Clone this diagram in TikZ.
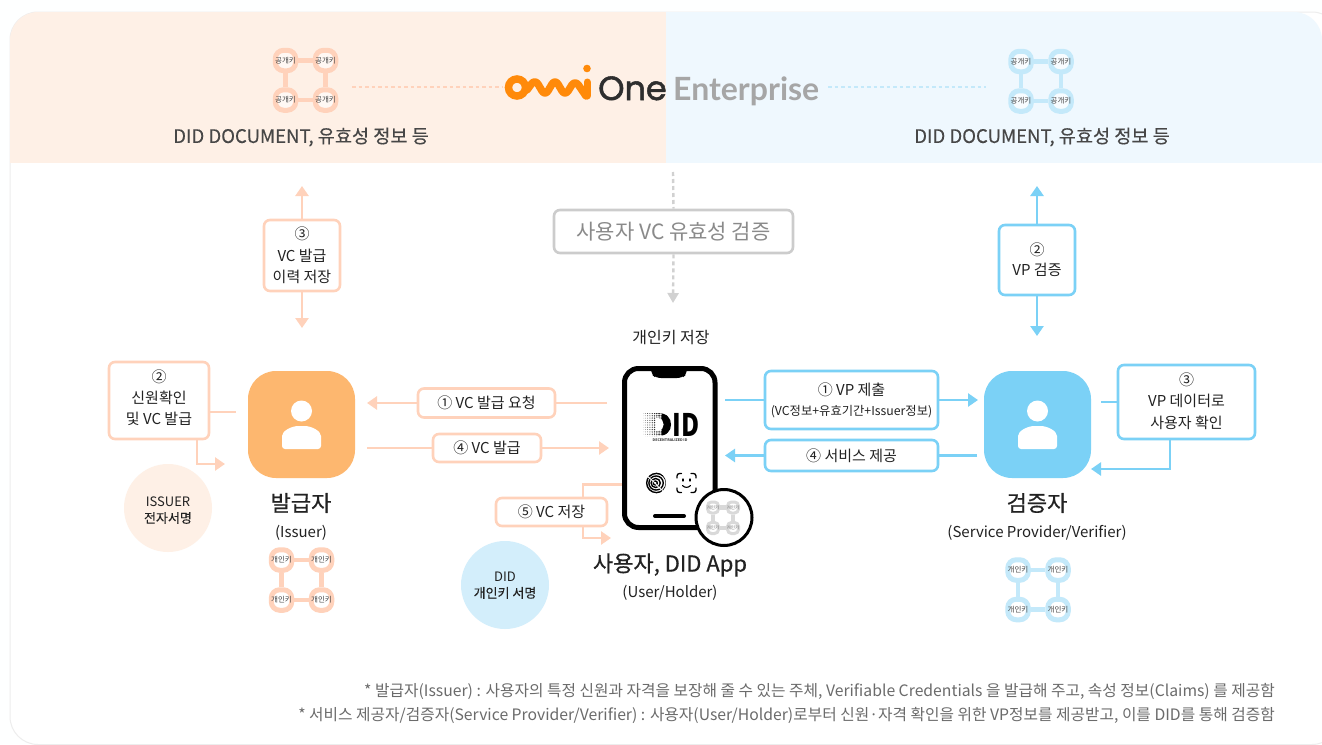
\documentclass[tikz,border=0pt]{standalone}
\usepackage{fontspec}
\usetikzlibrary{arrows.meta,positioning,calc}
\setmainfont{Noto Sans CJK KR}
\newfontfamily\logofont{Poppins}
\newfontfamily\entfont{Lato}
\definecolor{peach}{HTML}{FFD2BB}
\definecolor{sky}{HTML}{7BD1F6}
\definecolor{paleblue}{HTML}{C4E9FA}
\definecolor{panelL}{HTML}{FEF0E6}
\definecolor{panelR}{HTML}{EFF8FE}
\definecolor{ink}{HTML}{222222}
\definecolor{graytx}{HTML}{8A8A8A}
\definecolor{omni}{HTML}{FF8A0A}
\definecolor{issuerfill}{HTML}{FDB76F}
\tikzset{
  x=1pt,y=-1pt,
  pxfont/.style={font=\fontsize{#1}{#1}\selectfont},
  peachbox/.style={draw=peach,fill=white,line width=2.6pt,rounded corners=6pt,inner sep=0pt,align=center,text=ink},
  skybox/.style={draw=sky,fill=white,line width=2.6pt,rounded corners=6pt,inner sep=0pt,align=center,text=ink},
  peachline/.style={draw=peach,line width=2.6pt},
  skyline/.style={draw=sky,line width=2.6pt},
  peacharrow/.style={peachline,-{Triangle[length=10pt,width=13pt,fill=peach]}},
  skyarrow/.style={skyline,-{Triangle[length=10pt,width=13pt,fill=sky]}},
  grayarrow/.style={draw=black!18,line width=2.4pt,dash pattern=on 4pt off 3pt,-{Triangle[length=10pt,width=11pt,fill=black!18]}},
  keyring/.style={rectangle,rounded corners=8.5pt,minimum size=20.5pt,inner sep=0pt,line width=5pt,text=black!72,pxfont=7.5},
  plainlabel/.style={inner sep=0pt,align=center,text=ink},
  disc/.style={circle,minimum size=88pt,inner sep=0pt,align=center,text=ink,pxfont=13},
}
% prefix, x left, y top, dx, dy, colour, ring fill, label
\newcommand{\keygrid}[8]{%
  \node[keyring,draw=#6,fill=#7] (#1a) at (#2,#3) {\makebox[0pt]{#8}};
  \node[keyring,draw=#6,fill=#7] (#1b) at (#2+#4,#3) {\makebox[0pt]{#8}};
  \node[keyring,draw=#6,fill=#7] (#1c) at (#2,#3+#5) {\makebox[0pt]{#8}};
  \node[keyring,draw=#6,fill=#7] (#1d) at (#2+#4,#3+#5) {\makebox[0pt]{#8}};
  \draw[#6,line width=4.5pt] (#1a) -- (#1b);
  \draw[#6,line width=4.5pt] (#1c) -- (#1d);
  \draw[#6,line width=4.5pt] (#1a) -- (#1c);
  \draw[#6,line width=4.5pt] (#1b) -- (#1d);
}
\newcommand{\person}[2]{%
  \begin{scope}[shift={(#1,#2)}]
    \fill[white] (0,-27) circle (10.5);
    \fill[white,rounded corners=3pt] (-19.5,11) -- (-19.5,1) .. controls (-19.5,-7) and (-10,-12) .. (0,-12) .. controls (10,-12) and (19.5,-7) .. (19.5,1) -- (19.5,11) -- cycle;
  \end{scope}
}
\begin{document}
\begin{tikzpicture}
\useasboundingbox (0,0) rectangle (1322,744);
\fill[white!95!panelR] (0,0) rectangle (1322,744);
% card
\draw[draw=black!7,fill=white,line width=1pt,rounded corners=28pt] (10,12) rectangle (1340,744.5);
\begin{scope}
  \clip[rounded corners=28pt] (10,12) rectangle (1322,770);
  \fill[panelL] (10,12) rectangle (666,163);
  \fill[panelR] (666,12) rectangle (1322,163);
\end{scope}
% logo dotted rules
\coordinate (dl1) at (352,87); \coordinate (dl2) at (502,87);
\coordinate (dr1) at (828,87); \coordinate (dr2) at (986,87);
\draw[peach,line width=2.2pt,dash pattern=on 3.5pt off 3pt] (dl1) -- (dl2);
\draw[paleblue,line width=2.2pt,dash pattern=on 3.5pt off 3pt] (dr1) -- (dr2);
% logo
\draw[omni,line width=7.5pt] (517,87.5) circle (8.5);
\draw[omni,line width=7.5pt,line cap=round,line join=round,rounded corners=6pt] (527,90) -- (535,79) -- (545,96) -- (555,79) -- (565,96) -- (575,80) -- (586,96);
\draw[omni,line width=7pt,line cap=round] (587,82) -- (587,96);
\fill[omni] (587,68.5) circle (3.8);
\node[inner sep=0pt,anchor=base west,text=black!82] (one) at (598,100) {\logofont\fontsize{33.5}{34}\selectfont\addfontfeature{FakeBold=1.6}One};
\node[inner sep=0pt,anchor=base west,text=black!35] (ent) at (673,100) {\entfont\fontsize{32}{33}\selectfont\bfseries Enterprise};
% public key grids
\keygrid{pl}{285.5}{60.5}{40}{39.5}{peach}{white!55!panelL}{공개키}
\keygrid{pr}{1021}{61.5}{40}{39.5}{paleblue}{white!55!panelR}{공개키}
\node[plainlabel,text=black!72,pxfont=18.6] (docl) at (301,137) {\addfontfeature{FakeBold=0.3}DID DOCUMENT, 유효성 정보 등};
\node[plainlabel,text=black!72,pxfont=18.6] (docr) at (1042,137) {\addfontfeature{FakeBold=0.3}DID DOCUMENT, 유효성 정보 등};
% squares
\node[inner sep=0pt,minimum size=107pt,rectangle,rounded corners=28pt,fill=issuerfill] (issuer) at (301.5,424.5) {};
\node[inner sep=0pt,minimum size=107pt,rectangle,rounded corners=28pt,fill=sky] (verifier) at (1037.5,424.5) {};
\person{301.5}{438}
\person{1037.5}{438}
\node[plainlabel,pxfont=22] (issuername) at (301,503) {\addfontfeature{FakeBold=0.6}발급자};
\node[plainlabel,pxfont=15] (issuersub) at (301,532.5) {(Issuer)};
\node[plainlabel,pxfont=22] (vername) at (1037,503) {\addfontfeature{FakeBold=0.6}검증자};
\node[plainlabel,pxfont=15] (versub) at (1037,532.5) {(Service Provider/Verifier)};
\keygrid{il}{281.5}{560}{40}{40}{peach}{white}{개인키}
\keygrid{vl}{1018}{570}{40}{39.5}{paleblue}{white}{개인키}
% discs
\node[disc,fill=panelL] at (168,508) {};
\node[plainlabel,pxfont=13] (dsig1) at (168,510.5) {ISSUER\\[3pt]\addfontfeature{FakeBold=0.3}전자서명};
\node[disc,fill=paleblue!75!white] at (505,585) {};
\node[plainlabel,pxfont=13] (dsig2) at (505,585.5) {DID\\[3pt]\addfontfeature{FakeBold=0.3}개인키 서명};
% left vertical
\node[peachbox,minimum width=76pt,minimum height=71pt,pxfont=15] (b3) at (302,255.5) {③\\[6.5pt]VC 발급\\[6.5pt]이력 저장};
\coordinate (b3up) at (302,186); \coordinate (b3dn) at (302,328);
\draw[peacharrow] (b3.north) -- (b3up);
\draw[peacharrow] (b3.south) -- (b3dn);
% centre
\node[draw=black!20,fill=white,line width=2.6pt,rounded corners=6pt,minimum width=239pt,minimum height=43pt,inner sep=0pt,text=graytx,pxfont=21] (valid) at (673.5,231.5) {사용자 VC 유효성 검증};
\coordinate (vup) at (673,172); \coordinate (vdn) at (673,303);
\draw[draw=black!18,line width=2.4pt,dash pattern=on 4pt off 3pt] (vup) -- (valid.north);
\draw[grayarrow] (valid.south) -- (vdn);
\node[plainlabel,pxfont=16] (store) at (671,338) {개인키 저장};
% right vertical
\node[skybox,minimum width=76pt,minimum height=70pt,pxfont=15] (c2) at (1037,260) {②\\[5pt]VP 검증};
\coordinate (c2up) at (1037,186); \coordinate (c2dn) at (1037,336);
\draw[skyarrow] (c2.north) -- (c2up);
\draw[skyarrow] (c2.south) -- (c2dn);
% left box 2
\node[peachbox,minimum width=100pt,minimum height=77pt] (b2) at (159,400.5) {};
\node[plainlabel,pxfont=15] (b2t) at (159,397.5) {②\\[6pt]신원확인\\[6pt]및 VC 발급};
\coordinate (b2e) at (236,412);
\draw[peachline] (b2.east |- b2e) -- (b2e);
\coordinate (b2turn) at (197,464); \coordinate (b2tip) at (225,464);
\draw[peacharrow] (b2.south -| b2turn) -- (b2turn) -- (b2tip);
% middle arrows
\node[peachbox,minimum width=137pt,minimum height=29pt,pxfont=15] (m1) at (486.5,403) {① VC 발급 요청};
\coordinate (m1r) at (607,403); \coordinate (m1l) at (367,403);
\draw[peachline] (m1r) -- (m1.east);
\draw[peacharrow] (m1.west) -- (m1l);
\node[peachbox,minimum width=108pt,minimum height=28pt,pxfont=15] (m4) at (487,448) {④ VC 발급};
\coordinate (m4l) at (367,448); \coordinate (m4r) at (609,448);
\draw[peachline] (m4l) -- (m4.west);
\draw[peacharrow] (m4.east) -- (m4r);
\node[peachbox,minimum width=111pt,minimum height=28pt,pxfont=15] (m5) at (551.5,512) {⑤ VC 저장};
\coordinate (m5a) at (622,484.5); \coordinate (m5b) at (583,484.5);
\coordinate (m5c) at (583,538); \coordinate (m5d) at (611,538);
\draw[peachline] (m5a) -- (m5b) -- (m5b |- m5.north);
\draw[peacharrow] (m5c |- m5.south) -- (m5c) -- (m5d);
% right arrows
\node[skybox,minimum width=173pt,minimum height=58pt] (r1) at (851.5,400) {{\fontsize{15}{16}\selectfont ① VP 제출}\\[8pt]{\fontsize{12.3}{13}\selectfont (VC정보+유효기간+Issuer정보)}};
\coordinate (r1l) at (725,400); \coordinate (r1r) at (978,400);
\draw[skyline] (r1l) -- (r1.west);
\draw[skyarrow] (r1.east) -- (r1r);
\node[skybox,minimum width=173pt,minimum height=31pt,pxfont=15] (r4) at (851.5,455.5) {④ 서비스 제공};
\coordinate (r4l) at (725,455.5); \coordinate (r4r) at (977,455.5);
\draw[skyline] (r4r) -- (r4.east);
\draw[skyarrow] (r4.west) -- (r4l);
\node[skybox,minimum width=137pt,minimum height=74pt] (r3) at (1186.5,402) {};
\node[plainlabel,pxfont=15] (r3t) at (1186.5,401) {③\\[6.5pt]VP 데이터로\\[6.5pt]사용자 확인};
\coordinate (r3a) at (1101,402);
\draw[skyline] (r3a) -- (r3.west);
\coordinate (r3b) at (1170,469); \coordinate (r3c) at (1091,469);
\draw[skyarrow] (r3.south -| r3b) -- (r3b) -- (r3c);
% phone
\draw[black,line width=5pt,fill=white,rounded corners=14pt] (624.5,368.5) rectangle (715,527.5);
\fill[black,rounded corners=5pt] (651,366) -- (651,374) -- (656,378) -- (682,378) -- (687,374) -- (687,366) -- cycle;
\draw[black,line width=4pt,line cap=round] (655,516) -- (684,516);
% DID logo
\begin{scope}
  \clip (643,413) -- (657,413) .. controls (667,413) and (671,418) .. (671,424.5) .. controls (671,431) and (667,436) .. (657,436) -- (643,436) -- cycle;
  \foreach \i in {0,...,10}{
    \foreach \j in {0,...,10}{
      \fill[black!80] (643+\i*2.3,413.5+\j*2.3) circle ({0.25+\i*0.1});
    }
  }
  \fill[black] (662,413) rectangle (672,436);
\end{scope}
\fill[white] (658,418) .. controls (665.5,419) and (665.5,430) .. (658,431) -- (656,431) -- (656,418) -- cycle;
\node[inner sep=0pt,anchor=base west] (didtxt) at (672.5,436) {\scalebox{0.8}[1]{\fontsize{31}{31}\selectfont\bfseries ID}};
\node[inner sep=0pt,text=black!75] (dectxt) at (670,440.5) {\fontsize{3.6}{4}\selectfont\bfseries DECENTRALIZED ID};
% fingerprint
\begin{scope}
  \clip (655,483) circle (11);
  \foreach \r in {2,4.6,7.2,9.8}{
    \draw[black,line width=1.4pt] (655+\r*0.15,483) circle [x radius=\r,y radius=\r*0.98];
  }
  \draw[white,line width=0.9pt] (655,483) -- (645,474);
  \draw[white,line width=0.9pt] (655,483) .. controls (660,489) and (662,491) .. (668,492);
\end{scope}
% face id
\draw[black,line width=1.3pt,line cap=round,rounded corners=2.5pt] (677,478) -- (677,473.5) -- (681.5,473.5);
\draw[black,line width=1.3pt,line cap=round,rounded corners=2.5pt] (691,473.5) -- (696,473.5) -- (696,478);
\draw[black,line width=1.3pt,line cap=round,rounded corners=2.5pt] (677,488) -- (677,492.5) -- (681.5,492.5);
\draw[black,line width=1.3pt,line cap=round,rounded corners=2.5pt] (691,492.5) -- (696,492.5) -- (696,488);
\draw[black,line width=1.3pt,line cap=round] (683,479) -- (683,481);
\draw[black,line width=1.3pt,line cap=round] (690,479) -- (690,481);
\draw[black,line width=1.1pt,line cap=round] (682.5,485.5) .. controls (684.5,488) and (688.5,488) .. (690.5,485.5);
% mini key circle
\node[circle,draw=black,fill=white,line width=3pt,minimum size=56pt,inner sep=0pt] (mini) at (724,517.5) {};
\tikzset{keyring/.append style={minimum size=11pt,rounded corners=4pt,line width=3pt,pxfont=4.5,text=black!60}}
\keygrid{mk}{713}{507.5}{20}{20.5}{black!15}{white}{개인키}
% names
\node[plainlabel,pxfont=22] (username) at (670,565) {\addfontfeature{FakeBold=0.6}사용자, DID App};
\node[plainlabel,pxfont=15] (usersub) at (670,593) {(User/Holder)};
% footnotes
\node[inner sep=0pt,anchor=east,text=black!58,pxfont=15.75] (fn1) at (1275,691) {* 발급자(Issuer) : 사용자의 특정 신원과 자격을 보장해 줄 수 있는 주체, Verifiable Credentials 을 발급해 주고, 속성 정보(Claims) 를 제공함};
\node[inner sep=0pt,anchor=east,text=black!58,pxfont=15.75] (fn2) at (1275,715) {* 서비스 제공자/검증자(Service Provider/Verifier) : 사용자(User/Holder)로부터 신원·자격 확인을 위한 VP정보를 제공받고, 이를 DID를 통해 검증함};
\end{tikzpicture}
\end{document}
